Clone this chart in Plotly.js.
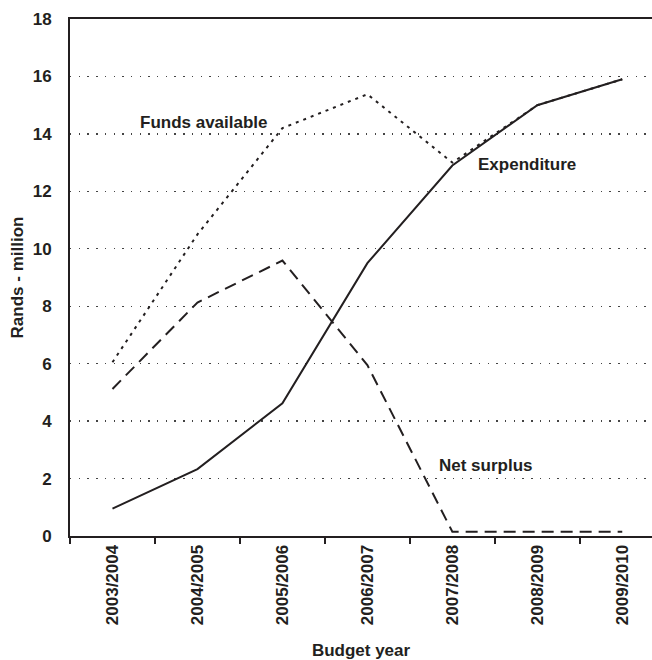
<!DOCTYPE html>
<html>
<head>
<meta charset="utf-8">
<script src="https://cdn.plot.ly/plotly-3.0.1.min.js"></script>
<style>
html,body{margin:0;padding:0;background:#fff;overflow:hidden;}
#chart{width:652px;height:660px;}
</style>
</head>
<body>
<div id="chart"></div>
<script>
var years = ["2003/2004","2004/2005","2005/2006","2006/2007","2007/2008","2008/2009","2009/2010"];
var expenditure = [0.95, 2.33, 4.62, 9.5, 12.9, 15.0, 15.9];
var fundsAvailable = [6.05, 10.5, 14.2, 15.38, 13.0, 15.0, 15.9];
var netSurplus = [5.12, 8.13, 9.59, 5.95, 0.15, 0.15, 0.15];
var yTicks = [0, 2, 4, 6, 8, 10, 12, 14, 16, 18];

var ink = "#231f20";
var fnt = {family: "Liberation Sans, Arial, sans-serif", size: 17, color: ink, weight: "bold"};

var traces = [
  {x: years, y: fundsAvailable, type: "scatter", mode: "lines", name: "Funds available",
   line: {color: ink, width: 2, dash: "3px,5px"}},
  {x: years, y: netSurplus, type: "scatter", mode: "lines", name: "Net surplus",
   line: {color: ink, width: 2, dash: "12px,7px"}},
  {x: years, y: expenditure, type: "scatter", mode: "lines", name: "Expenditure",
   line: {color: ink, width: 2}}
];

var layout = {
  width: 652, height: 660,
  margin: {l: 70, r: 0, t: 19, b: 124},
  paper_bgcolor: "#fff", plot_bgcolor: "#fff",
  showlegend: false,
  font: fnt,
  xaxis: {
    type: "category", range: [-0.5, 6.35],
    showline: true, linecolor: ink, linewidth: 2, mirror: true,
    ticks: "outside", ticklen: 6, tickcolor: ink, tickwidth: 1.5,
    tickson: "boundaries",
    showgrid: false, tickangle: -90, tickfont: fnt,
    title: {text: "Budget year", font: fnt, standoff: 22}
  },
  yaxis: {
    range: [0, 18], tickvals: yTicks, ticktext: yTicks.map(String),
    showline: true, linecolor: ink, linewidth: 2,
    ticks: "", ticklabelstandoff: 13,
    showgrid: true, gridcolor: "#444", gridwidth: 1.4, griddash: "1.4px,7.3px",
    zeroline: false, tickfont: fnt,
    title: {text: "Rands - million", font: fnt, standoff: 5}
  },
  annotations: [
    {x: 1.08, y: 14.38, xref: "x", yref: "y", text: "Funds available", showarrow: false, font: fnt},
    {x: 4.88, y: 12.92, xref: "x", yref: "y", text: "Expenditure", showarrow: false, font: fnt},
    {x: 4.4, y: 2.45, xref: "x", yref: "y", text: "Net surplus", showarrow: false, font: fnt}
  ]
};

Plotly.newPlot("chart", traces, layout, {displayModeBar: false, staticPlot: true});
</script>
</body>
</html>
